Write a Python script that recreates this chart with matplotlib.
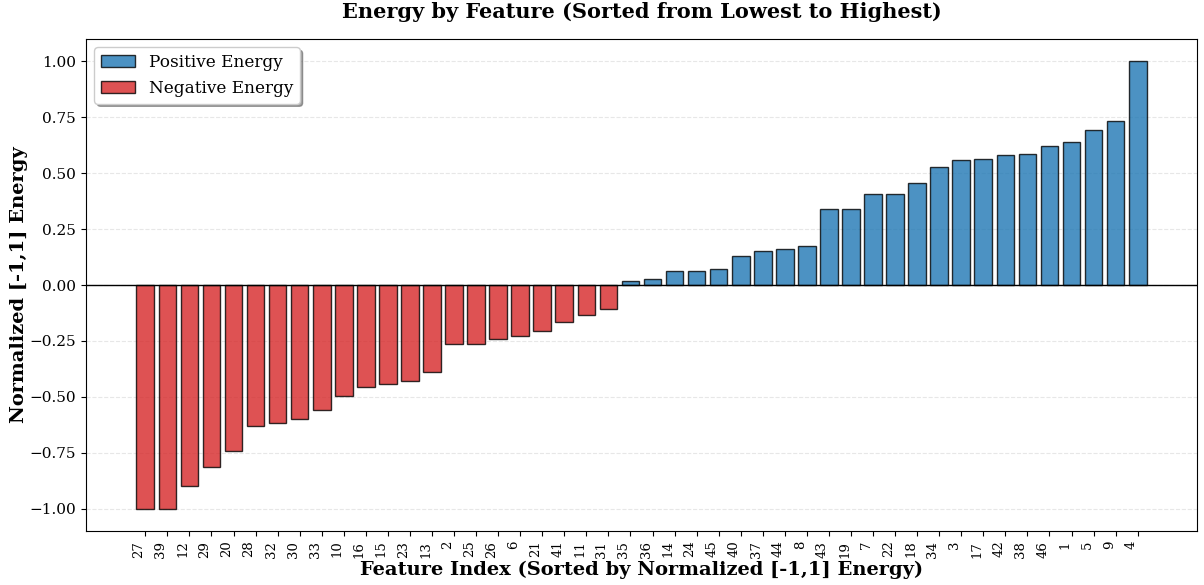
import numpy as np
import matplotlib
matplotlib.use("Agg")
import matplotlib.pyplot as plt
from matplotlib.patches import Patch

plt.rcParams['font.family'] = 'DejaVu Serif'

# feature indices, sorted from lowest to highest energy
features = ["27", "39", "12", "29", "20", "28", "32", "30", "33", "10", "16",
            "15", "23", "13", "2", "25", "26", "6", "21", "41", "11", "31",
            "35", "36", "14", "24", "45", "40", "37", "44", "8", "43", "19",
            "7", "22", "18", "34", "3", "17", "42", "38", "46", "1", "5", "9", "4"]

energy = [-1.0, -1.0, -0.900, -0.812, -0.741, -0.629, -0.615, -0.600, -0.557,
          -0.498, -0.455, -0.442, -0.429, -0.391, -0.265, -0.262, -0.241,
          -0.228, -0.204, -0.164, -0.132, -0.107,
          0.018, 0.025, 0.061, 0.064, 0.070, 0.130, 0.152, 0.162, 0.176,
          0.340, 0.341, 0.405, 0.408, 0.455, 0.526, 0.557, 0.562, 0.580,
          0.584, 0.623, 0.638, 0.692, 0.733, 1.0]

pos_color = '#1f77b4'
neg_color = '#d62728'

x = np.arange(len(features))
colors = [pos_color if v >= 0 else neg_color for v in energy]

fig, ax = plt.subplots(figsize=(12.04, 5.85), dpi=100)
ax.bar(x, energy, color=colors, alpha=0.8, edgecolor='black', linewidth=1)
ax.axhline(0, color='black', linewidth=1)

ax.set_xticks(x)
ax.set_xticklabels(features, rotation=90, ha='right', fontsize=9.5)
ax.tick_params(axis='y', labelsize=11)
ax.set_ylim(-1.1, 1.1)

ax.set_title("Energy by Feature (Sorted from Lowest to Highest)",
             fontsize=15, fontweight='bold', pad=15)
ax.set_xlabel("Feature Index (Sorted by Normalized [-1,1] Energy)",
              fontsize=14, fontweight='bold', labelpad=2)
ax.set_ylabel("Normalized [-1,1] Energy", fontsize=14, fontweight='bold', labelpad=1)
ax.grid(axis='y', linestyle='--', alpha=0.3)
ax.set_axisbelow(True)

handles = [Patch(facecolor=pos_color, alpha=0.8, edgecolor='black', label='Positive Energy'),
           Patch(facecolor=neg_color, alpha=0.8, edgecolor='black', label='Negative Energy')]
ax.legend(handles=handles, loc='upper left', fontsize=12.2, shadow=True, fancybox=True)

plt.subplots_adjust(left=0.0714, right=0.9942, top=0.9333, bottom=0.0923)
plt.savefig("out.png", dpi=100)
